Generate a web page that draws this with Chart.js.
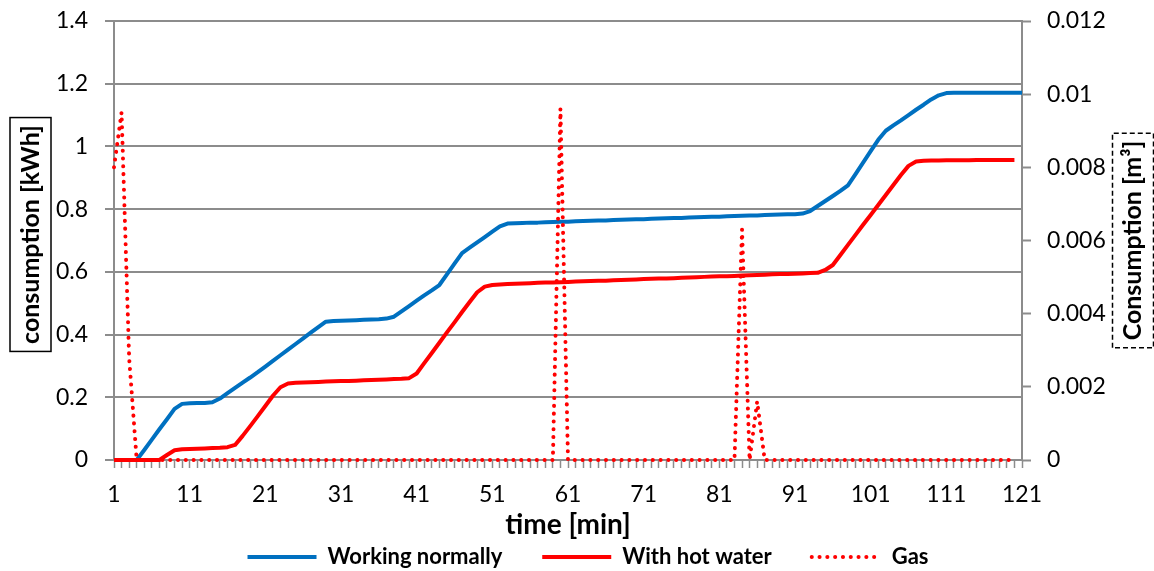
<!DOCTYPE html>
<html>
<head>
<meta charset="utf-8">
<script src="https://cdn.jsdelivr.net/npm/chart.js@4.4.0/dist/chart.umd.min.js"></script>
<style>
  html, body { margin: 0; padding: 0; background: #fff; }
  #wrap { width: 1154px; height: 571px; }
</style>
</head>
<body>
<div id="wrap"><canvas id="chart" width="1154" height="571"></canvas></div>
<script>
// Minutes of the measurement run
const minutes = [
  1, 2, 3, 4, 5, 6, 7, 8, 9, 10, 11, 12, 13, 14, 15, 16, 17, 18, 19, 20,
  21, 22, 23, 24, 25, 26, 27, 28, 29, 30, 31, 32, 33, 34, 35, 36, 37, 38, 39, 40,
  41, 42, 43, 44, 45, 46, 47, 48, 49, 50, 51, 52, 53, 54, 55, 56, 57, 58, 59, 60,
  61, 62, 63, 64, 65, 66, 67, 68, 69, 70, 71, 72, 73, 74, 75, 76, 77, 78, 79, 80,
  81, 82, 83, 84, 85, 86, 87, 88, 89, 90, 91, 92, 93, 94, 95, 96, 97, 98, 99, 100,
  101, 102, 103, 104, 105, 106, 107, 108, 109, 110, 111, 112, 113, 114, 115, 116, 117, 118, 119, 120,
  121
];

// Cumulative electricity consumption [kWh], normal operation
const workingNormally = [
  0, 0, 0, 0, 0.032, 0.065, 0.098, 0.13, 0.163, 0.179,
  0.181, 0.182, 0.182, 0.184, 0.196, 0.213, 0.23, 0.247, 0.263, 0.28,
  0.298, 0.316, 0.334, 0.352, 0.37, 0.388, 0.406, 0.424, 0.441, 0.443,
  0.444, 0.445, 0.446, 0.447, 0.448, 0.449, 0.451, 0.457, 0.474, 0.491,
  0.508, 0.525, 0.541, 0.558, 0.592, 0.626, 0.66, 0.677, 0.694, 0.711,
  0.728, 0.745, 0.754, 0.755, 0.756, 0.757, 0.757, 0.758, 0.759, 0.76,
  0.76, 0.761, 0.762, 0.763, 0.764, 0.764, 0.765, 0.766, 0.767, 0.768,
  0.768, 0.769, 0.77, 0.771, 0.772, 0.772, 0.773, 0.774, 0.775, 0.776,
  0.776, 0.777, 0.778, 0.779, 0.78, 0.78, 0.781, 0.782, 0.783, 0.784,
  0.784, 0.786, 0.794, 0.81, 0.826, 0.842, 0.858, 0.876, 0.912, 0.948,
  0.985, 1.021, 1.05, 1.067, 1.083, 1.1, 1.117, 1.133, 1.15, 1.163,
  1.17, 1.171, 1.171, 1.171, 1.171, 1.171, 1.171, 1.171, 1.171, 1.171,
  1.171
];

// Cumulative electricity consumption [kWh] with hot water
const withHotWater = [
  0, 0, 0, 0, 0, 0, 0, 0.016, 0.031, 0.034,
  0.035, 0.036, 0.037, 0.038, 0.039, 0.041, 0.048, 0.077, 0.108, 0.14,
  0.172, 0.205, 0.232, 0.244, 0.246, 0.247, 0.248, 0.249, 0.25, 0.251,
  0.252, 0.252, 0.253, 0.254, 0.255, 0.256, 0.257, 0.258, 0.259, 0.261,
  0.276, 0.309, 0.341, 0.374, 0.407, 0.439, 0.472, 0.504, 0.535, 0.553,
  0.558, 0.56, 0.561, 0.562, 0.563, 0.564, 0.565, 0.566, 0.566, 0.567,
  0.568, 0.569, 0.57, 0.571, 0.572, 0.572, 0.573, 0.574, 0.575, 0.576,
  0.577, 0.578, 0.579, 0.579, 0.58, 0.581, 0.582, 0.583, 0.584, 0.585,
  0.586, 0.586, 0.587, 0.588, 0.589, 0.59, 0.591, 0.592, 0.593, 0.593,
  0.594, 0.595, 0.596, 0.597, 0.606, 0.622, 0.654, 0.686, 0.718, 0.75,
  0.781, 0.813, 0.845, 0.877, 0.909, 0.938, 0.952, 0.954, 0.955, 0.955,
  0.956, 0.956, 0.956, 0.956, 0.957, 0.957, 0.957, 0.957, 0.957, 0.957
];

// Gas consumption per minute [m³]
const gas = [
  0.008, 0.0095, 0.0028, 0, 0, 0, 0, 0, 0, 0,
  0, 0, 0, 0, 0, 0, 0, 0, 0, 0,
  0, 0, 0, 0, 0, 0, 0, 0, 0, 0,
  0, 0, 0, 0, 0, 0, 0, 0, 0, 0,
  0, 0, 0, 0, 0, 0, 0, 0, 0, 0,
  0, 0, 0, 0, 0, 0, 0, 0, 0, 0.0096,
  0, 0, 0, 0, 0, 0, 0, 0, 0, 0,
  0, 0, 0, 0, 0, 0, 0, 0, 0, 0,
  0, 0, 0, 0.0063, 0, 0.0016, 0, 0, 0, 0,
  0, 0, 0, 0, 0, 0, 0, 0, 0, 0,
  0, 0, 0, 0, 0, 0, 0, 0, 0, 0,
  0, 0, 0, 0, 0, 0, 0, 0, 0, 0
];

// Axis tick labels
const timeTickLabels = ['1', '11', '21', '31', '41', '51', '61', '71', '81', '91', '101', '111', '121'];
const kwhTicks = [0, 0.2, 0.4, 0.6, 0.8, 1, 1.2, 1.4];
const m3Ticks = [0, 0.002, 0.004, 0.006, 0.008, 0.01, 0.012];

const FONT = 'Lato, "Open Sans", sans-serif';
const GRID = '#8c8c8c';
const BLUE = '#0070c0';
const RED = '#ff0000';

Chart.defaults.font.family = FONT;
Chart.defaults.color = '#000';

// Axis titles drawn in boxes (left solid, right dashed), plus the time title
const axisTitles = {
  id: 'axisTitles',
  afterDraw(chart) {
    const { ctx, chartArea: a } = chart;
    ctx.save();
    ctx.fillStyle = '#000';
    ctx.textAlign = 'center';
    ctx.textBaseline = 'middle';

    ctx.font = 'bold 28px ' + FONT;
    ctx.fillText('time [min]', (a.left + a.right) / 2, a.bottom + 65);

    const boxed = (text, cx, cy, dash) => {
      const w = ctx.measureText(text).width;
      ctx.save();
      ctx.translate(cx, cy);
      ctx.rotate(-Math.PI / 2);
      ctx.fillText(text, 0, 0);
      ctx.lineWidth = 1.5;
      ctx.strokeStyle = '#000';
      ctx.setLineDash(dash);
      ctx.strokeRect(-w / 2 - 7.5, -20.5, w + 15, 41);
      ctx.restore();
    };
    ctx.font = 'bold 25px ' + FONT;
    boxed('consumption [kWh]', a.left - 83.5, (a.top + a.bottom) / 2 - 6, []);
    boxed('Consumption [m³]', a.right + 111, (a.top + a.bottom) / 2, [5, 3]);
    ctx.restore();
  }
};

// Legend entries take their line style from the dataset itself
function legendLabels(chart) {
  const items = Chart.defaults.plugins.legend.labels.generateLabels(chart);
  return items.map(item => {
    const ds = chart.data.datasets[item.datasetIndex];
    item.strokeStyle = ds.borderColor;
    item.fillStyle = ds.borderColor;
    item.lineWidth = ds.borderWidth;
    item.lineDash = ds.borderDash || [];
    item.lineCap = ds.borderCapStyle || 'butt';
    return item;
  }).sort((a, b) => a.datasetIndex - b.datasetIndex);
}

new Chart(document.getElementById('chart'), {
  type: 'line',
  data: {
    labels: minutes,
    datasets: [
      {
        label: 'Working normally',
        data: workingNormally,
        yAxisID: 'y',
        borderColor: BLUE,
        backgroundColor: BLUE,
        borderWidth: 4,
        pointRadius: 0,
        tension: 0,
        borderJoinStyle: 'round',
        clip: 6,
        order: 2
      },
      {
        label: 'With hot water',
        data: withHotWater,
        yAxisID: 'y',
        borderColor: RED,
        backgroundColor: RED,
        borderWidth: 4,
        pointRadius: 0,
        tension: 0,
        borderJoinStyle: 'round',
        clip: 6,
        order: 1
      },
      {
        label: 'Gas',
        data: gas,
        yAxisID: 'y1',
        borderColor: RED,
        backgroundColor: RED,
        borderWidth: 4,
        borderDash: [0.1, 7.7],
        borderCapStyle: 'round',
        borderJoinStyle: 'round',
        pointRadius: 0,
        tension: 0,
        clip: 6,
        order: 0
      }
    ]
  },
  options: {
    responsive: false,
    animation: false,
    layout: { padding: { top: 21, bottom: -7, left: 22, right: 0 } },
    plugins: {
      tooltip: { enabled: false },
      legend: {
        position: 'bottom',
        labels: {
          usePointStyle: true,
          pointStyle: 'line',
          pointStyleWidth: 69,
          padding: 40,
          color: '#000',
          font: { size: 22, weight: 'bold' },
          generateLabels: legendLabels
        }
      }
    },
    scales: {
      x: {
        type: 'category',
        offset: false,
        grid: { drawOnChartArea: false, drawTicks: true, tickLength: 8, tickWidth: 1.5, tickColor: GRID },
        border: { color: GRID, width: 2 },
        ticks: {
          autoSkip: false,
          maxRotation: 0,
          minRotation: 0,
          padding: 13,
          font: { size: 23 },
          callback(value, index) {
            const lbl = String(minutes[index]);
            return timeTickLabels.includes(lbl) ? lbl : '';
          }
        },
        afterFit(scale) { scale.height = 46; }
      },
      y: {
        position: 'left',
        min: 0,
        max: 1.4,
        grid: { color: GRID, lineWidth: 2, tickLength: 9, tickWidth: 2, tickColor: GRID },
        border: { color: GRID, width: 2 },
        ticks: { padding: 17, font: { size: 23 }, callback: v => String(Number(v.toFixed(1))) },
        afterBuildTicks(scale) { scale.ticks = kwhTicks.map(v => ({ value: v })); },
        afterFit(scale) { scale.width = 92; scale.paddingTop = 0; scale.paddingBottom = 0; }
      },
      y1: {
        position: 'right',
        min: 0,
        max: 0.012,
        grid: { drawOnChartArea: false, tickLength: 9, tickWidth: 2, tickColor: GRID },
        border: { color: GRID, width: 2, dash: [6, 4] },
        ticks: { padding: 16, font: { size: 23 }, callback: v => String(Number(v.toFixed(3))) },
        afterBuildTicks(scale) { scale.ticks = m3Ticks.map(v => ({ value: v })); },
        afterFit(scale) { scale.width = 132; scale.paddingTop = 0; scale.paddingBottom = 0; }
      }
    }
  },
  plugins: [axisTitles]
});
</script>
</body>
</html>
